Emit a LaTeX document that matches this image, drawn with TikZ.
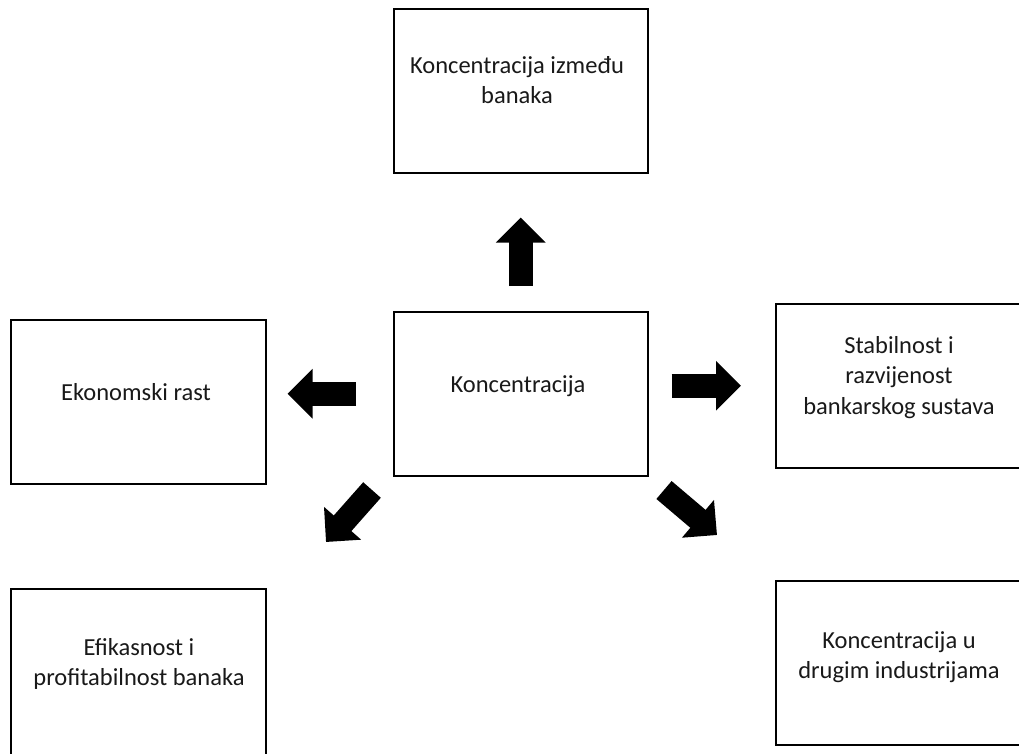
\documentclass[tikz,border=0pt]{standalone}
\usepackage{fontspec}
\setmainfont{Carlito}
\usetikzlibrary{arrows.meta}
\newcommand{\mylines}[1]{\begin{tabular}[t]{@{}c@{}}#1\end{tabular}}
\tikzset{
  box/.style={draw=black, line width=1.5pt, fill=white, rectangle, inner sep=0pt,
    minimum width=255pt, minimum height=164pt, anchor=north west},
  txt/.style={inner sep=0pt, anchor=base, font=\fontsize{24.5}{30.5}\selectfont, text=black!90},
  blockarrow/.style={draw=black, line width=23.5pt, line cap=butt,
    -{Triangle[length=25pt,width=48pt]}}
}
\begin{document}
\begin{tikzpicture}[x=1pt,y=-1pt]
\useasboundingbox (0,0) rectangle (1019,753);
\fill[white] (0,0) rectangle (1019,753);
\clip (0,0) rectangle (1019,753);
% boxes
\node[box, minimum width=254pt] (t) at (393,8) {};
\node[box, minimum width=254pt] (c) at (393,311) {};
\node[box] (l) at (10,319) {};
\node[box, minimum width=290pt] (r) at (775,303) {};
\node[box, minimum height=180pt] (bl) at (10,588) {};
\node[box, minimum width=290pt] (br) at (775,580) {};
% texts
\node[txt] (tt) at (517,73) {\mylines{Koncentracija između\\banaka}};
\node[txt] (ct) at (518,392) {Koncentracija};
\node[txt] (lt) at (136,400) {Ekonomski rast};
\node[txt] (rt) at (899,353) {\mylines{Stabilnost i\\razvijenost\\bankarskog sustava}};
\node[txt] (blt) at (139,655) {\mylines{Efikasnost i\\profitabilnost banaka}};
\node[txt] (brt) at (899,648) {\mylines{Koncentracija u\\drugim industrijama}};
% arrows
\draw[blockarrow, shorten <=25pt, shorten >=44pt] (c.north) -- (c.north |- t.south);
\draw[blockarrow, shorten <=37pt, shorten >=21pt] (c.west) -- (c.west -| l.east);
\draw[blockarrow, shorten <=23pt, shorten >=34pt] (c.east |- r.west) -- (c.east |- r.west -| r.west);
\coordinate (dl1) at (372,490);
\coordinate (dl2) at (326,542);
\coordinate (dr1) at (664,490);
\coordinate (dr2) at (717,535);
\draw[blockarrow] (dl1) -- (dl2);
\draw[blockarrow] (dr1) -- (dr2);
\end{tikzpicture}
\end{document}
